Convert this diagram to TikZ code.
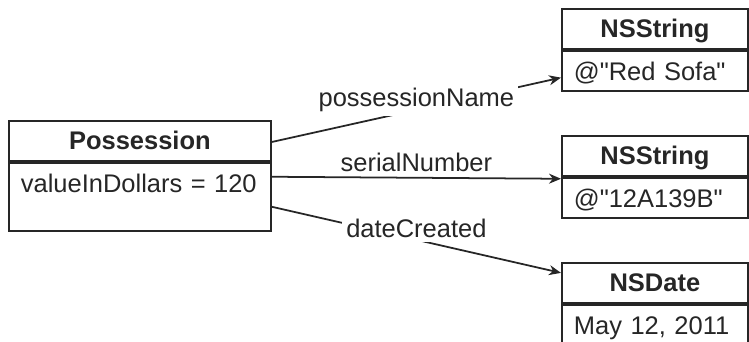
\documentclass[tikz,border=0pt]{standalone}
\usepackage{fontspec}
\setmainfont{Liberation Sans}
\usetikzlibrary{positioning,arrows.meta}

\begin{document}
\begin{tikzpicture}[
  x=0.2mm, y=-0.2mm,
  font=\fontsize{14.5}{17}\selectfont, color=black!85,
  head/.style={draw, line width=1pt, font=\fontsize{14.5}{17}\selectfont\bfseries, text width=#1, align=center,
    inner xsep=0.24cm, inner ysep=0pt, text height=0.58cm, text depth=0.22cm, anchor=north west},
  body/.style={draw, line width=1pt, text width=#1, align=left,
    inner xsep=0.24cm, inner ysep=0pt, text height=0.6cm, text depth=0.2cm},
  arr/.style={-{Stealth[length=2.4mm, width=2mm]}, line width=1pt},
  lab/.style={midway, fill=white, inner sep=0.08cm}]
\useasboundingbox (0,0) rectangle (749,341);
% --- owner object
\node[head=4.76cm] (possT) at (8,120) {Possession};
\node[body=4.76cm, text depth=0.76cm, below=0pt of possT] (possV) {valueInDollars = 120};
% --- referenced objects
\node[head=3.24cm] (str1T) at (561,8) {NSString};
\node[body=3.24cm, below=0pt of str1T] (str1V) {@\textquotedbl Red Sofa\textquotedbl};
\node[head=3.24cm] (str2T) at (561,135) {NSString};
\node[body=3.24cm, below=0pt of str2T] (str2V) {@\textquotedbl 12A139B\textquotedbl};
\node[head=3.24cm] (dateT) at (561,262) {NSDate};
\node[body=3.24cm, below=0pt of dateT] (dateV) {May 12, 2011};
% --- pointers
\draw[arr] ([yshift=-0.44cm]possT.north east) -- node[lab, yshift=0.2cm]{possessionName} ([yshift=-0.14cm]str1V.west);
\draw[arr] ([yshift=-0.3cm]possV.north east) -- node[lab, above, fill=none, inner sep=0.1cm]{serialNumber} ([yshift=-0.04cm]str2V.north west);
\draw[arr] ([yshift=-0.9cm]possV.north east) -- node[lab, yshift=0.22cm]{dateCreated} ([yshift=0.2cm]dateT.west);
\end{tikzpicture}
\end{document}
